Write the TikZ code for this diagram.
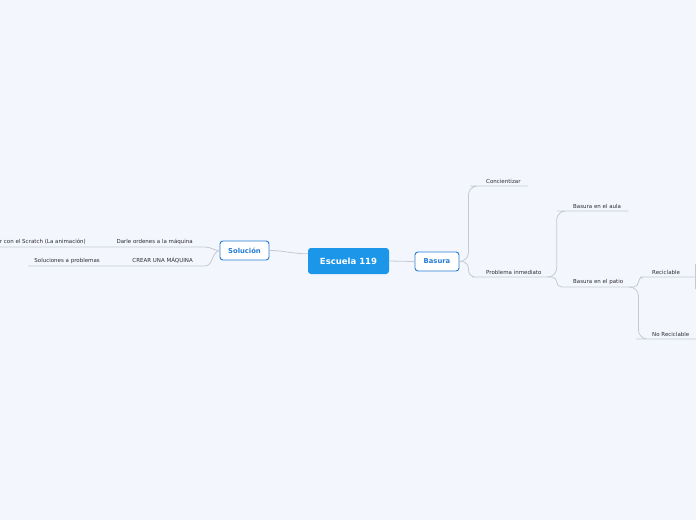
\documentclass[tikz,border=0pt]{standalone}
\usepackage{fontspec}
\setmainfont{DejaVu Sans}
\usetikzlibrary{positioning}
\definecolor{paper}{RGB}{243,246,253}
\definecolor{twig}{RGB}{196,201,212}
\definecolor{rootblue}{RGB}{27,150,232}
\definecolor{boxblue}{RGB}{38,124,212}
\definecolor{ink}{RGB}{45,45,55}
\begin{document}
\begin{tikzpicture}[
        x=1pt, y=-1pt,
        every node/.style={font=\fontsize{5.5}{6.5}\selectfont, text=ink},
        central/.style={rectangle, rounded corners=3pt, fill=rootblue, text=white, font=\fontsize{8.5}{10}\selectfont\bfseries, minimum width=81pt, minimum height=26pt, inner sep=0pt},
        mainbox/.style={rectangle, rounded corners=3pt, draw=boxblue, line width=0.9pt, fill=white, text=boxblue, font=\fontsize{6.8}{8}\selectfont\bfseries, minimum height=19pt, inner sep=0pt},
        topic/.style={inner xsep=7pt, inner ysep=2.5pt},
        lefttopic/.style={inner xsep=6pt, inner ysep=2.5pt, anchor=south east},
        branch/.style={draw=twig, line width=0.8pt}
    ]

    % Canvas
    \useasboundingbox (0,0) rectangle (696,520);
    \clip (0,0) rectangle (696,520);
    \fill[paper] (0,0) rectangle (696,520);

    % Central topic and main branches
    \node[central] (root) at (348.5,261) {Escuela 119};
    \node[mainbox, minimum width=44pt] (basura) at (437,261.5) {Basura};
    \node[mainbox, minimum width=49pt] (solucion) at (244.5,250.5) {Solución};

    \draw[branch] (root.east) -- (basura.west);
    \draw[branch] (root.170) to[out=180, in=0] (solucion.east);

    % Right side: Basura
    \node[topic, anchor=south west] (conc) at (479,186) {Concientizar};
    \node[topic, anchor=south west] (probinm) at (479,277) {Problema inmediato};
    \node[topic, anchor=south west] (aula) at (566,211) {Basura en el aula};
    \node[topic, anchor=south west] (patio) at (566,287) {Basura en el patio};
    \node[topic, anchor=south west] (recic) at (645,277) {Reciclable};
    \node[topic, anchor=south west] (norecic) at (645,339) {No Reciclable};

    \coordinate (recicout) at (695,277);
    \coordinate (recicup) at (695,264);
    \coordinate (recicdown) at (695,289);
    \coordinate (norecicout) at (697,339);

    \draw[branch, rounded corners=9pt] (basura.east) -- ++(9,0) |- (conc.south west) -- (conc.south east);
    \draw[branch, rounded corners=7pt] (basura.east) -- ++(9,0) |- (probinm.south west) -- (probinm.south east);
    \draw[branch, rounded corners=9pt] (probinm.south east) -- ++(8,0) |- (aula.south west) -- (aula.south east);
    \draw[branch, rounded corners=5pt] (probinm.south east) -- ++(8,0) |- (patio.south west) -- (patio.south east);
    \draw[branch, rounded corners=5pt] (patio.south east) -- ++(8,0) |- (recic.south west) -- (recic.south east) -- (recicout);
    \draw[branch, rounded corners=9pt] (patio.south east) -- ++(8,0) |- (norecic.south west) -- (norecic.south east) -- (norecicout);
    \draw[branch] (recicup) -- (recicdown);

    % Left side: Solución
    \node[lefttopic] (darle) at (199,247) {Darle ordenes a la máquina};
    \node[lefttopic] (scratch) at (92,247) {r con el Scratch (La animación)};
    \node[lefttopic] (crear) at (199,266) {CREAR UNA MÁQUINA};
    \node[lefttopic] (soluc) at (106,266) {Soluciones a problemas};

    \draw[branch] (solucion.west) to[out=180, in=0] ([xshift=6pt]darle.south east) -- (darle.south west) -- (scratch.south east) -- (scratch.south west);
    \draw[branch] (solucion.west) to[out=190, in=0] ([xshift=6pt]crear.south east) -- (crear.south west) -- (soluc.south east) -- (soluc.south west);

\end{tikzpicture}
\end{document}
